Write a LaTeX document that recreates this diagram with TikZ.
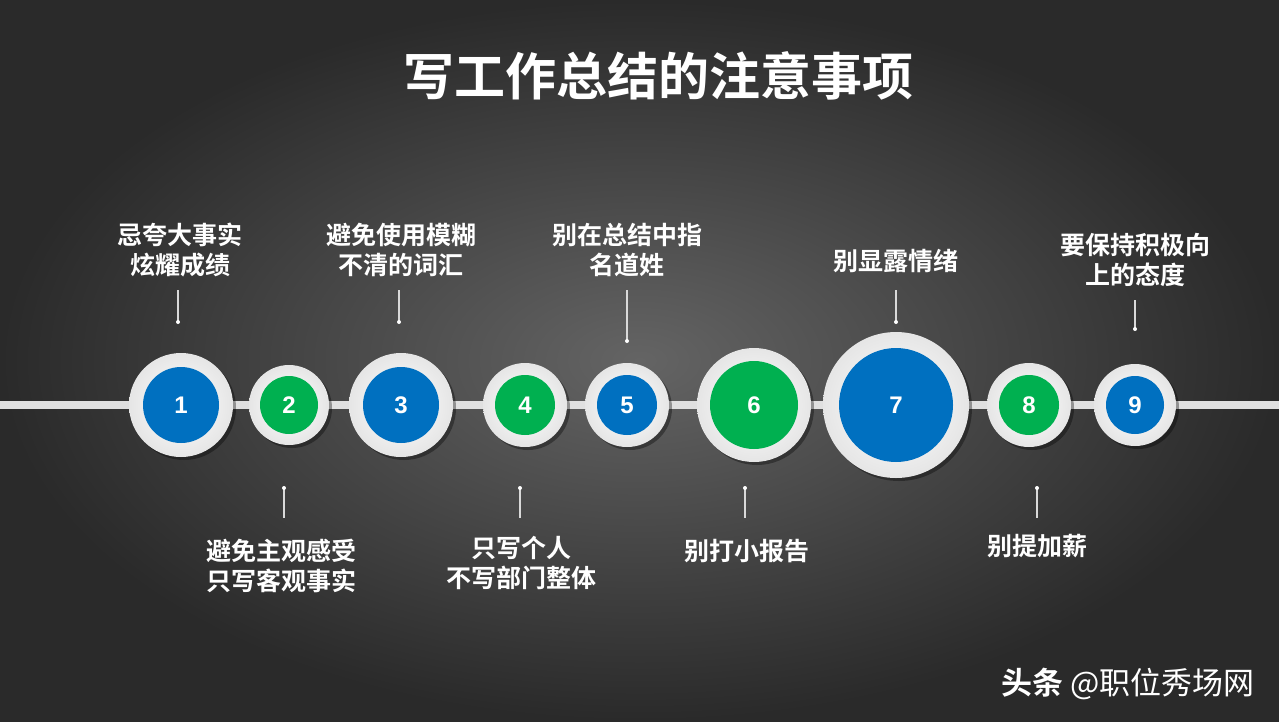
\documentclass[tikz,border=0pt]{standalone}
\usepackage{fontspec}
\newfontfamily\cjk{Noto Sans CJK SC}
\newfontfamily\cjkb{Noto Sans CJK SC Bold}
\newfontfamily\numf{Liberation Sans}
\definecolor{bl}{HTML}{0070C0}
\definecolor{gr}{HTML}{00B050}
\definecolor{bgc}{HTML}{646464}
\definecolor{bge}{HTML}{2A2A2A}
\begin{document}
\begin{tikzpicture}[x=1pt,y=-1pt,
  lab/.style={text=white,font=\cjkb\fontsize{25}{30}\selectfont,align=center},
  num/.style={text=white,font=\numf\bfseries\fontsize{24}{24}\selectfont},
  tick/.style={white!85!black,line width=1.2pt}]
\useasboundingbox (0,0) rectangle (1279,721);
\shade[inner color=bgc,outer color=bge] (0,0) rectangle (1279,721);
\draw[white!88!black,line width=8pt] (0,405) -- (1279,405);
\foreach \n/\x/\R/\r/\c in {1/181/52/38/bl,2/289/40/29/gr,3/401/52/38/bl,4/525/42/30/gr,5/627/42/30/bl,6/754/57/44/gr,7/896/73/57/bl,8/1029/42/30/gr,9/1135/41/29/bl}{
  \fill[black,opacity=0.35] (\x+3,408) circle (\R);
  \shade[inner color=white,outer color=white!80!gray] (\x,405) circle (\R);
  \fill[\c] (\x,405) circle (\r);
  \node[num] (n\n) at (\x,405) {\n};
}
\foreach \x/\a/\b in {178/290/322,399/290/322,627/290/341,896/290/322,1135/300/329}{
  \draw[tick] (\x,\a) -- (\x,\b); \fill[white] (\x,\b) circle (2);}
\foreach \x/\a/\b in {284/488/518,520/488/518,745/488/518,1037/488/518}{
  \draw[tick] (\x,\a) -- (\x,\b); \fill[white] (\x,\a) circle (2);}
\node[text=white,font=\cjkb\fontsize{51}{51}\selectfont] (title) at (658,76) {写工作总结的注意事项};
\node[lab] (t1) at (180,250) {忌夸大事实\\炫耀成绩};
\node[lab] (t3) at (401,250) {避免使用模糊\\不清的词汇};
\node[lab] (t5) at (627,250) {别在总结中指\\名道姓};
\node[lab] (t7) at (896,261) {别显露情绪};
\node[lab] (t9) at (1135,260) {要保持积极向\\上的态度};
\node[lab] (t2) at (281,566) {避免主观感受\\只写客观事实};
\node[lab] (t4) at (521,563) {只写个人\\不写部门整体};
\node[lab] (t6) at (747,551) {别打小报告};
\node[lab] (t8) at (1037,546) {别提加薪};
\node[text=white,font=\cjk\fontsize{31}{31}\selectfont,anchor=east] (wm) at (1258,684) {{\cjkb 头条} @职位秀场网};
\end{tikzpicture}
\end{document}
